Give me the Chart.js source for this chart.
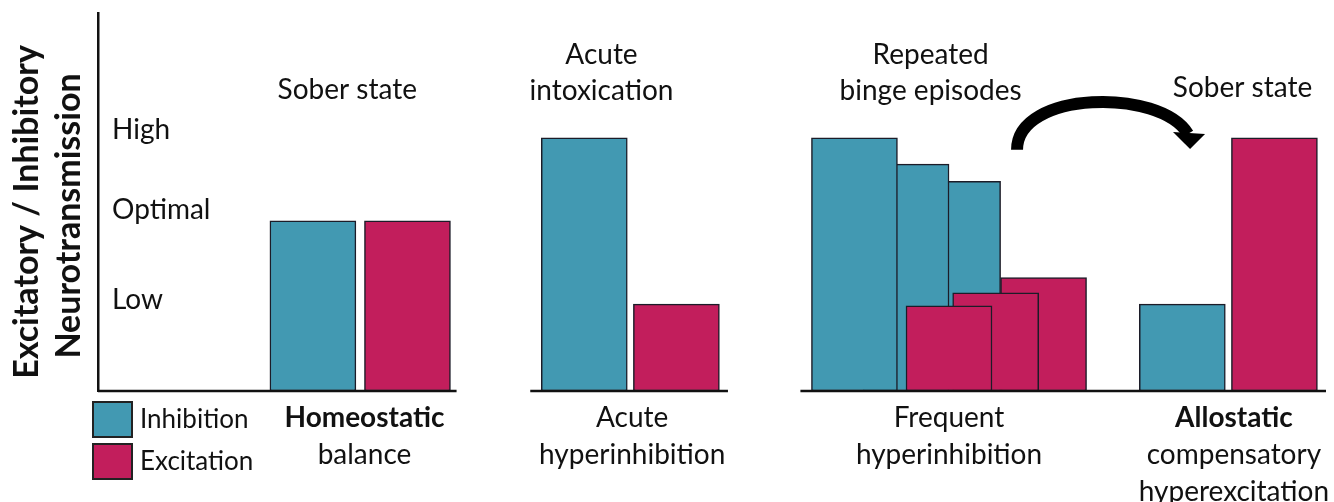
<!DOCTYPE html>
<html>
<head>
<meta charset="utf-8">
<script src="https://cdn.jsdelivr.net/npm/chart.js@4.4.1/dist/chart.umd.min.js"></script>
<style>
  html, body { margin: 0; padding: 0; background: #fff; }
</style>
</head>
<body>
<canvas id="graficoBalance" width="1334" height="502"></canvas>
<script>
// datos del grafico
const seriesNames = ['Inhibition', 'Excitation'];
const levelLabels = ['Low', 'Optimal', 'High'];
const levelValues = [2.4, 4.8, 6.9];
const inhibitionX = [17.5, 39.6, 61.6, 65.8, 70.0, 88.3];
const inhibitionValues = [4.5, 6.7, 6.7, 6.0, 5.55, 2.3];
const excitationX = [25.2, 47.1, 69.3, 73.1, 77.0, 95.8];
const excitationValues = [4.5, 2.3, 2.25, 2.6, 3.0, 6.7];
const stateLabels = [['Sober state'], ['Acute', 'intoxication'], ['Repeated', 'binge episodes'], ['Sober state']];
const outcomeLabels = [['Homeostatic', 'balance'], ['Acute', 'hyperinhibition'], ['Frequent', 'hyperinhibition'], ['Allostatic', 'compensatory', 'hyperexcitation']];
const yTitle = ['Excitatory / Inhibitory', 'Neurotransmission'];

// posiciones de los textos y del eje (en unidades de las escalas)
const stateX = [20.3, 41.0, 67.8, 93.2];
const stateY = [7.96, 8.89, 8.89, 8.02];
const outcomeX = [21.7, 43.5, 69.3, 92.5];
const outcomeY = -0.71;
const outcomeBold = [true, false, false, true];
const axisSegments = [[0, 29.2], [35.2, 51.3], [57.2, 100]];
const arrow = { start: [74.84, 6.38], c1: [74.84, 7.96], c2: [86.5, 8.02], end: [88.76, 6.80] };
const arrowHead = [[87.54, 6.85], [90.15, 6.80], [88.93, 6.40]];

const teal = '#4299b2';
const crimson = '#c21e5c';
const fontFamily = 'Lato, "Open Sans", sans-serif';

function puntos(xs, ys) {
    // los de la izquierda quedan encima
    return xs.map((x, i) => ({ x: x, y: ys[i] })).sort((a, b) => b.x - a.x);
}

const decoracion = {
    id: 'decoracion',
    afterDatasetsDraw(chart) {
        const { ctx, scales: { x, y } } = chart;
        const px = u => x.getPixelForValue(u);
        const py = v => y.getPixelForValue(v);

        ctx.save();
        // eje x por tramos
        ctx.strokeStyle = '#111';
        ctx.lineWidth = 2.5;
        for (const [a, b] of axisSegments) {
            ctx.beginPath();
            ctx.moveTo(px(a), py(0));
            ctx.lineTo(px(b), py(0));
            ctx.stroke();
        }

        // textos de arriba
        ctx.fillStyle = '#111';
        ctx.textAlign = 'center';
        ctx.textBaseline = 'middle';
        stateLabels.forEach((lines, i) => {
            lines.forEach((t, j) => {
                ctx.font = `28px ${fontFamily}`;
                ctx.fillText(t, px(stateX[i]), py(stateY[i]) + j * 36);
            });
        });

        // textos de abajo
        outcomeLabels.forEach((lines, i) => {
            lines.forEach((t, j) => {
                ctx.font = (j === 0 && outcomeBold[i] ? 'bold ' : '') + `28px ${fontFamily}`;
                ctx.fillText(t, px(outcomeX[i]), py(outcomeY) + j * 37);
            });
        });

        // flecha curva
        ctx.strokeStyle = '#000';
        ctx.lineWidth = 12;
        ctx.lineCap = 'butt';
        ctx.beginPath();
        ctx.moveTo(px(arrow.start[0]), py(arrow.start[1]));
        ctx.bezierCurveTo(px(arrow.c1[0]), py(arrow.c1[1]), px(arrow.c2[0]), py(arrow.c2[1]), px(arrow.end[0]), py(arrow.end[1]));
        ctx.stroke();
        ctx.fillStyle = '#000';
        ctx.beginPath();
        arrowHead.forEach(([u, v], i) => i ? ctx.lineTo(px(u), py(v)) : ctx.moveTo(px(u), py(v)));
        ctx.closePath();
        ctx.fill();

        // titulo del eje y
        ctx.fillStyle = '#111';
        ctx.font = `bold 34px ${fontFamily}`;
        yTitle.forEach((t, j) => {
            ctx.save();
            ctx.translate(27 + j * 42, 212 + j * 4);
            ctx.rotate(-Math.PI / 2);
            ctx.fillText(t, 0, 0);
            ctx.restore();
        });

        // leyenda
        ctx.textAlign = 'left';
        chart.data.datasets.slice().reverse().forEach((ds, j) => {
            const top = 402 + j * 42;
            ctx.fillStyle = ds.backgroundColor;
            ctx.fillRect(93, top, 39, 35);
            ctx.strokeStyle = '#222';
            ctx.lineWidth = 2;
            ctx.strokeRect(93, top, 39, 35);
            ctx.fillStyle = '#111';
            ctx.font = `26px ${fontFamily}`;
            ctx.fillText(ds.label, 140, top + 18);
        });
        ctx.restore();
    }
};

const grafico = document.querySelector('#graficoBalance');

const graficoBarras = new Chart(grafico, {
    type: 'bar',
    data: {
        datasets: [
            { label: seriesNames[1], data: puntos(excitationX, excitationValues), backgroundColor: crimson, order: 0 },
            { label: seriesNames[0], data: puntos(inhibitionX, inhibitionValues), backgroundColor: teal, order: 1 }
        ]
    },
    options: {
        responsive: false,
        animation: false,
        events: [],
        layout: { padding: { top: 13, right: 8, bottom: 111, left: 0 } },
        plugins: { legend: { display: false }, tooltip: { enabled: false } },
        datasets: {
            bar: { grouped: false, barThickness: 86, borderWidth: 1.5, borderColor: '#1c1c28', borderSkipped: false }
        },
        scales: {
            x: { type: 'linear', min: 0, max: 100, offset: false, display: false },
            y: {
                min: 0,
                max: 10,
                afterFit: s => { s.width = 98; s.paddingTop = 0; s.paddingBottom = 0; },
                afterBuildTicks: s => { s.ticks = levelValues.map(v => ({ value: v })); },
                grid: { display: false },
                border: { display: true, color: '#111', width: 2.5 },
                ticks: {
                    mirror: true,
                    padding: 14,
                    color: '#111',
                    font: { family: fontFamily, size: 28 },
                    callback: v => levelLabels[levelValues.indexOf(v)]
                }
            }
        }
    },
    plugins: [decoracion]
});
</script>
</body>
</html>
